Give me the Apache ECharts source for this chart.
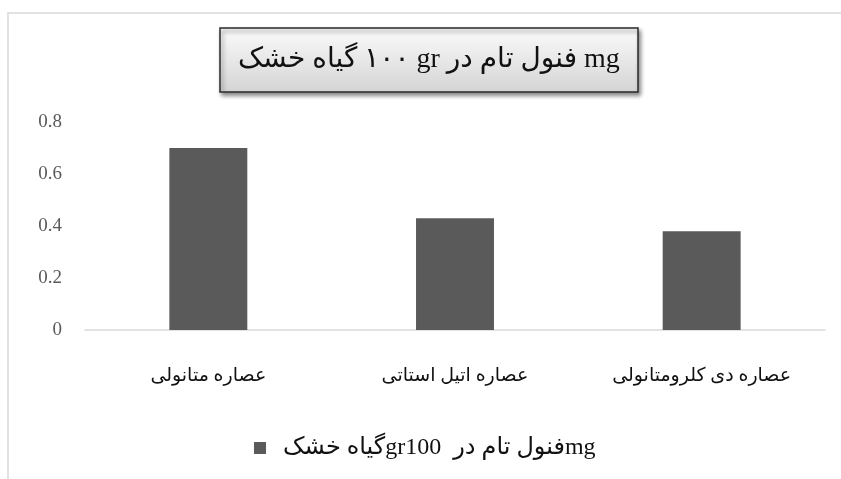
<!DOCTYPE html>
<html>
<head>
<meta charset="utf-8">
<script src="https://cdn.jsdelivr.net/npm/echarts@6/dist/echarts.min.js"></script>
<style>
html,body{margin:0;padding:0;background:#fff;}
#chart{width:841px;height:479px;}
</style>
</head>
<body>
<div id="chart"></div>
<script>
var titleText = '\u202Bmg فنول تام در gr ١٠٠ گیاه خشک\u202C';
var seriesName = '\u202Bmgفنول تام در  gr100گیاه خشک\u202C';
var categories = ['عصاره متانولی', 'عصاره اتیل استاتی', 'عصاره دی کلرومتانولی'];
var values = [0.70, 0.43, 0.38];
var yTicks = [0, 0.2, 0.4, 0.6, 0.8];

var serif = '"Liberation Serif", "DejaVu Serif", "DejaVu Sans", serif';
var chart = echarts.init(document.getElementById('chart'));
chart.setOption({
  animation: false,
  backgroundColor: '#fff',
  graphic: [{
    type: 'rect', z: -10, silent: true,
    shape: {x: 8, y: 13, width: 900, height: 600},
    style: {fill: '#fff', stroke: '#d9d9d9', lineWidth: 1.5}
  }],
  title: {
    text: titleText,
    left: 220, top: 28,
    padding: [13, 18, 13, 18],
    backgroundColor: {
      type: 'linear', x: 0, y: 0, x2: 0, y2: 1,
      colorStops: [{offset: 0, color: '#fbfbfb'}, {offset: 1, color: '#d4d4d4'}]
    },
    borderColor: '#2b2b2b', borderWidth: 1.5,
    shadowColor: 'rgba(0,0,0,0.45)', shadowBlur: 4, shadowOffsetX: 2, shadowOffsetY: 3,
    textStyle: {fontFamily: serif, fontSize: 28, fontWeight: 'normal', color: '#111', lineHeight: 38}
  },
  legend: {
    left: 249, top: 431,
    icon: 'rect', itemWidth: 12, itemHeight: 12,
    data: [seriesName],
    textStyle: {fontFamily: serif, fontSize: 24, color: '#111', padding: [0, 0, 0, 12]}
  },
  grid: {left: 85, right: 16, top: 122, bottom: 149},
  xAxis: {
    type: 'category', data: categories,
    axisLine: {lineStyle: {color: '#d9d9d9', width: 1.5}},
    axisTick: {show: false},
    axisLabel: {fontFamily: serif, fontSize: 19, color: '#111', margin: 37}
  },
  yAxis: {
    type: 'value', min: yTicks[0], max: yTicks[yTicks.length - 1], interval: 0.2,
    axisLine: {show: false}, axisTick: {show: false},
    splitLine: {show: false},
    axisLabel: {fontFamily: serif, fontSize: 19, color: '#595959', margin: 23,
      formatter: function (v) { return String(Math.round(v * 10) / 10); }}
  },
  series: [{
    name: seriesName, type: 'bar', data: values,
    barWidth: '31.6%',
    itemStyle: {color: '#5a5a5a'}
  }]
});
</script>
</body>
</html>
